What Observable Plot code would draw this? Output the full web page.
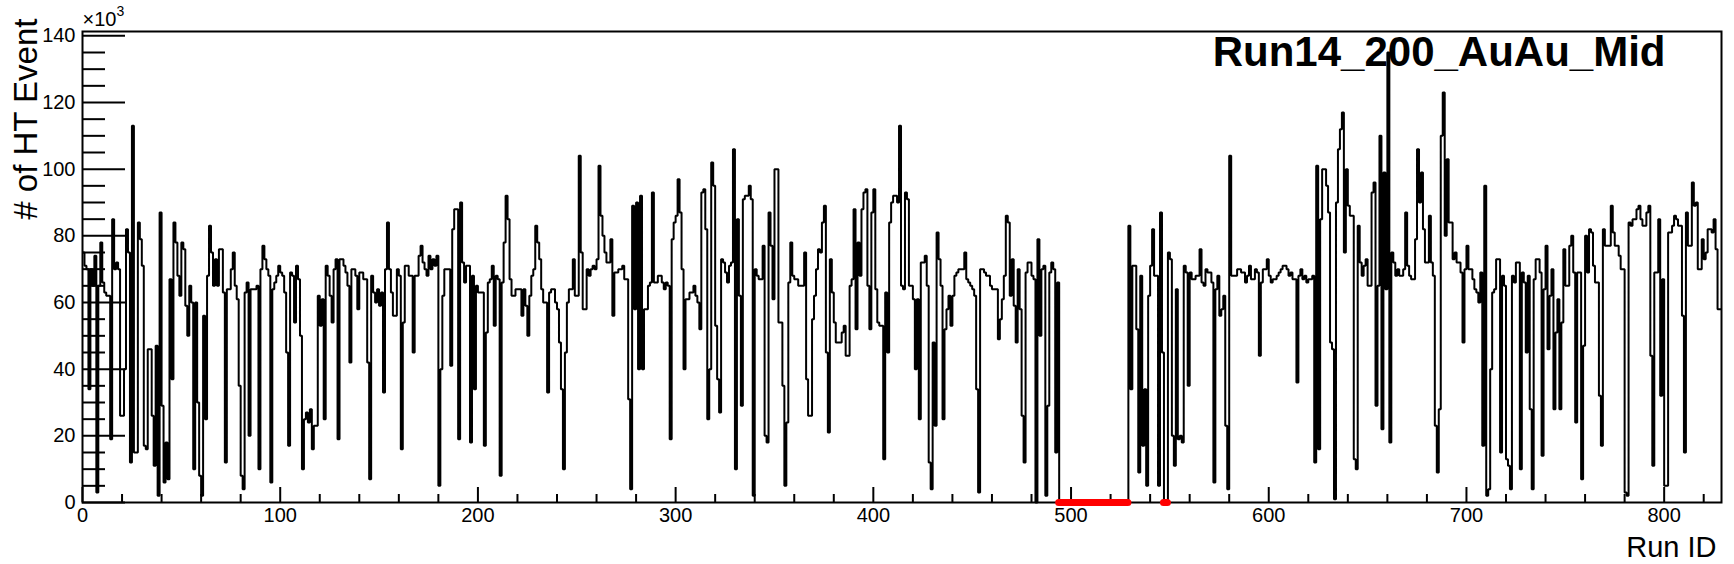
<!DOCTYPE html>
<html>
<head>
<meta charset="utf-8">
<script src="https://cdn.jsdelivr.net/npm/d3@7"></script>
<script src="https://cdn.jsdelivr.net/npm/@observablehq/plot@0.6"></script>
<style>
  html, body { margin: 0; padding: 0; background: #fff; }
  #chart { width: 1734px; height: 564px; }
</style>
</head>
<body>
<div id="chart"></div>
<script>
// Number of HT events per run (in units of 10^3), one value per run bin
const runValues = [
  75,71,70,34,70,65,74,3,65,78,
  66,63,62,62,19,85,70,72,70,26,
  26,40,82,75,12,113,15,15,84,79,
  71,17,16,46,46,26,11,47,2,87,
  29,6,18,7,67,37,84,78,68,62,
  78,76,59,50,65,60,10,60,30,8,
  2,56,25,68,83,75,65,73,65,76,
  76,63,12,64,64,70,75,65,61,35,
  8,4,63,66,20,64,64,64,65,10,
  70,77,73,70,68,6,64,66,68,71,
  69,68,63,45,17,69,68,54,71,67,
  50,10,25,27,24,28,16,23,23,62,
  53,61,25,71,68,62,54,70,73,19,
  73,73,71,69,65,42,70,70,68,58,
  69,69,67,67,42,7,68,63,60,64,
  59,63,33,70,84,70,63,56,56,70,
  68,16,54,71,71,68,68,45,68,68,
  74,77,72,70,68,74,70,73,71,74,
  5,40,62,70,70,70,41,82,88,88,
  19,90,72,66,71,71,18,68,34,65,
  63,63,63,17,51,66,67,71,53,68,
  67,8,66,78,92,85,67,62,62,64,
  64,64,56,64,59,50,62,68,70,83,
  78,73,64,60,60,33,63,64,64,60,
  58,48,34,10,45,60,64,64,73,62,
  62,104,75,58,58,70,68,70,71,70,
  73,101,86,80,75,72,72,79,56,69,
  69,70,70,71,67,67,31,4,89,58,
  90,40,92,40,58,58,65,66,93,66,
  66,68,68,66,64,66,65,19,79,84,
  86,97,87,70,40,61,61,63,63,65,
  62,60,52,93,94,82,25,40,102,95,
  53,37,27,73,72,69,66,71,72,106,
  10,85,62,29,91,92,92,95,91,2,
  70,68,67,67,77,20,18,87,77,61,
  100,100,54,54,35,5,24,66,78,68,
  67,67,65,65,65,75,37,26,26,55,
  62,70,76,75,84,89,45,21,73,63,
  54,48,48,48,51,53,44,44,65,67,
  88,52,78,68,88,93,94,65,52,87,
  94,64,54,53,53,13,63,45,84,90,
  92,92,90,113,65,64,93,91,65,65,
  61,40,61,25,72,72,74,65,12,4,
  48,23,81,73,65,25,52,58,62,53,
  62,68,69,70,70,70,75,67,66,65,
  64,62,34,3,70,70,69,68,68,65,
  64,64,64,49,55,61,68,86,84,62,
  73,59,48,70,58,26,12,69,72,72,
  68,67,0,79,50,70,71,2,29,69,
  72,70,15,66,0,0,0,0,0,0,
  0,0,0,0,0,0,0,0,0,0,
  0,0,0,0,0,0,0,0,0,0,
  0,0,0,0,0,0,0,0,0,83,
  34,71,71,52,9,68,17,34,5,62,
  71,82,68,68,5,87,45,0,0,75,
  73,20,11,64,19,20,18,71,69,35,
  69,67,67,68,68,76,66,65,70,69,
  69,66,6,64,68,56,58,62,23,4,
  104,68,68,68,70,70,69,69,66,68,
  71,67,67,70,69,44,66,70,70,73,
  68,66,67,67,68,69,70,71,71,70,
  68,69,67,67,36,68,70,67,68,66,
  67,67,68,12,101,16,85,100,100,95,
  87,48,46,1,90,106,112,117,75,100,
  89,86,86,13,10,83,72,68,71,73,
  65,65,93,96,29,65,110,22,99,64,
  135,18,75,72,68,70,68,68,70,87,
  71,68,67,67,79,106,90,99,82,72,
  72,86,72,68,23,9,28,110,123,80,
  103,84,84,73,75,72,72,69,48,70,
  77,70,70,67,64,63,60,69,17,95,
  2,4,40,63,64,73,73,15,68,65,
  13,11,4,68,66,72,72,10,69,66,
  45,68,28,4,67,73,73,69,14,64,
  77,46,62,70,28,51,61,28,54,76,
  65,65,77,80,69,24,69,69,7,47,
  80,69,82,81,71,66,66,32,17,82,
  77,77,77,89,81,77,77,74,70,70,
  3,2,84,83,85,85,88,89,85,83,
  83,87,89,44,11,69,69,85,32,67,
  5,5,81,81,83,86,85,83,83,56,
  15,87,77,77,96,89,90,70,70,79,
  73,75,82,82,81,85,76,58,58
];

// Runs flagged as bad (drawn in red on the axis): [first run, last run + 1]
const badRunStarts = [494, 547];
const badRunEnds   = [529, 549];

// Axis ticks and texts
const yMajorTicks = [0, 20, 40, 60, 80, 100, 120, 140];
const yMinorTicks = d3.range(5, 141, 5).filter(d => d % 20 !== 0);
const xMajorTicks = [0, 100, 200, 300, 400, 500, 600, 700, 800];
const xMinorTicks = d3.range(20, 829, 20).filter(d => d % 100 !== 0);
const titleText = "Run14_200_AuAu_Mid";
const yTitle = "# of HT Event";
const xTitle = "Run ID";
const expBase = "×10";
const expPow = "3";

const nRuns = runValues.length;
const stepData = runValues.map((v, i) => ({run: i, n: v}));
stepData.push({run: nRuns, n: runValues[nRuns - 1]});
const badRuns = badRunStarts.map((s, i) => ({x1: s, x2: badRunEnds[i]}));

const font = "'Liberation Sans', Arial, Helvetica, sans-serif";

const chart = Plot.plot({
  width: 1734,
  height: 564,
  marginLeft: 82,
  marginRight: 13,
  marginTop: 31,
  marginBottom: 62,
  x: {domain: [0, nRuns]},
  y: {domain: [0, 141.3]},
  style: {fontFamily: font, color: "black", background: "white", overflow: "visible"},
  marks: [
    Plot.line(stepData, {x: "run", y: "n", curve: "step-after", stroke: "black", strokeWidth: 2, strokeLinejoin: "miter", strokeLinecap: "butt"}),
    Plot.frame({stroke: "black", strokeWidth: 2}),
    Plot.axisY(yMajorTicks, {anchor: "left", tickSize: -43, tickPadding: 50, strokeWidth: 2, fontSize: 20, tickFormat: d => String(d), label: null}),
    Plot.axisY(yMinorTicks, {anchor: "left", tickSize: -23, strokeWidth: 2, tickFormat: () => "", label: null}),
    Plot.axisX(xMajorTicks, {anchor: "bottom", tickSize: -15, tickPadding: 20, strokeWidth: 2, fontSize: 20, tickFormat: d => String(d), label: null}),
    Plot.axisX(xMinorTicks, {anchor: "bottom", tickSize: -8, strokeWidth: 2, tickFormat: () => "", label: null}),
    Plot.ruleY(badRuns, {y: () => 0, x1: "x1", x2: "x2", stroke: "#ff0000", strokeWidth: 7, strokeLinecap: "round"}),
    Plot.text([titleText], {text: d => d, frameAnchor: "top-right", textAnchor: "end", lineAnchor: "bottom", dx: -56, dy: 34, fontSize: 42, fontWeight: "bold", fill: "black"}),
    Plot.text([yTitle], {text: d => d, frameAnchor: "top-left", rotate: -90, textAnchor: "end", lineAnchor: "bottom", dx: -46, dy: -13, fontSize: 33, fill: "black"}),
    Plot.text([xTitle], {text: d => d, frameAnchor: "bottom-right", textAnchor: "end", lineAnchor: "bottom", dx: -5, dy: 54, fontSize: 29, fill: "black"}),
    Plot.text([expBase], {text: d => d, frameAnchor: "top-left", textAnchor: "start", lineAnchor: "bottom", dx: 0, dy: -6, fontSize: 20, fill: "black"}),
    Plot.text([expPow], {text: d => d, frameAnchor: "top-left", textAnchor: "start", lineAnchor: "bottom", dx: 34, dy: -16, fontSize: 14, fill: "black"})
  ]
});
document.getElementById("chart").appendChild(chart);
</script>
</body>
</html>
